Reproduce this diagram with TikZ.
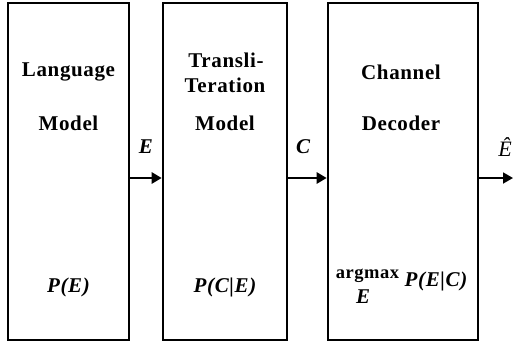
\documentclass[tikz,border=0pt]{standalone}
\usepackage{fontspec}
\setmainfont{Liberation Serif}
\newfontfamily\spacedfont[LetterSpace=3]{Liberation Serif}
\usetikzlibrary{arrows.meta}
\begin{document}
\begin{tikzpicture}[x=1pt,y=-1pt,
 blk/.style={draw,line width=2.6pt,minimum width=#1,minimum height=337pt,inner sep=0pt},
 lbl/.style={font=\spacedfont\fontsize{21}{23}\selectfont\bfseries,inner sep=0pt},
 small/.style={font=\spacedfont\fontsize{18.5}{20}\selectfont\bfseries,inner sep=0pt},
 arr/.style={line width=2.6pt,-{Triangle[length=10pt,width=11pt]}},
 arrthin/.style={line width=1.8pt,-{Triangle[length=10pt,width=11pt]}}]
\useasboundingbox (0,0) rectangle (513,343);
\node[blk=121pt] (b1) at (68.5,171.5) {};
\node[blk=124pt] (b2) at (225,171.5) {};
\node[blk=150pt] (b3) at (403,171.5) {};
% box 1
\node[lbl] (t1a) at (68.5,72) {Language};
\node[lbl] (t1b) at (68.5,123) {Model};
\node[lbl] (t1c) at (68.5,287) {\itshape P(E)};
% box 2
\node[lbl] (t2a) at (226,60) {Transli-};
\node[lbl] (t2b) at (225,85) {Teration};
\node[lbl] (t2c) at (225,123) {Model};
\node[lbl] (t2d) at (225,287) {\itshape P(C|E)};
% box 3
\node[lbl] (t3a) at (401,72) {Channel};
\node[lbl] (t3b) at (401,123) {Decoder};
\node[small] (t3c) at (367.5,276) {argmax};
\node[lbl] (t3d) at (363,297) {\itshape E};
\node[lbl] (t3e) at (436,281) {\itshape P(E|C)};
% arrows
\coordinate (out) at (513,178);
\draw[arr] ([yshift=-6.5pt]b1.east) -- ([yshift=-6.5pt]b2.west);
\draw[arr] ([yshift=-6.5pt]b2.east) -- ([yshift=-6.5pt]b3.west);
\draw[arrthin] ([yshift=-6.5pt]b3.east) -- (out);
% labels
\node[lbl] (le) at (146,147) {\itshape E};
\node[lbl] (lc) at (303,147) {\itshape C};
\node[inner sep=0pt,font=\fontsize{22}{24}\selectfont\itshape] (lh) at (505,147) {Ê};
\end{tikzpicture}
\end{document}
